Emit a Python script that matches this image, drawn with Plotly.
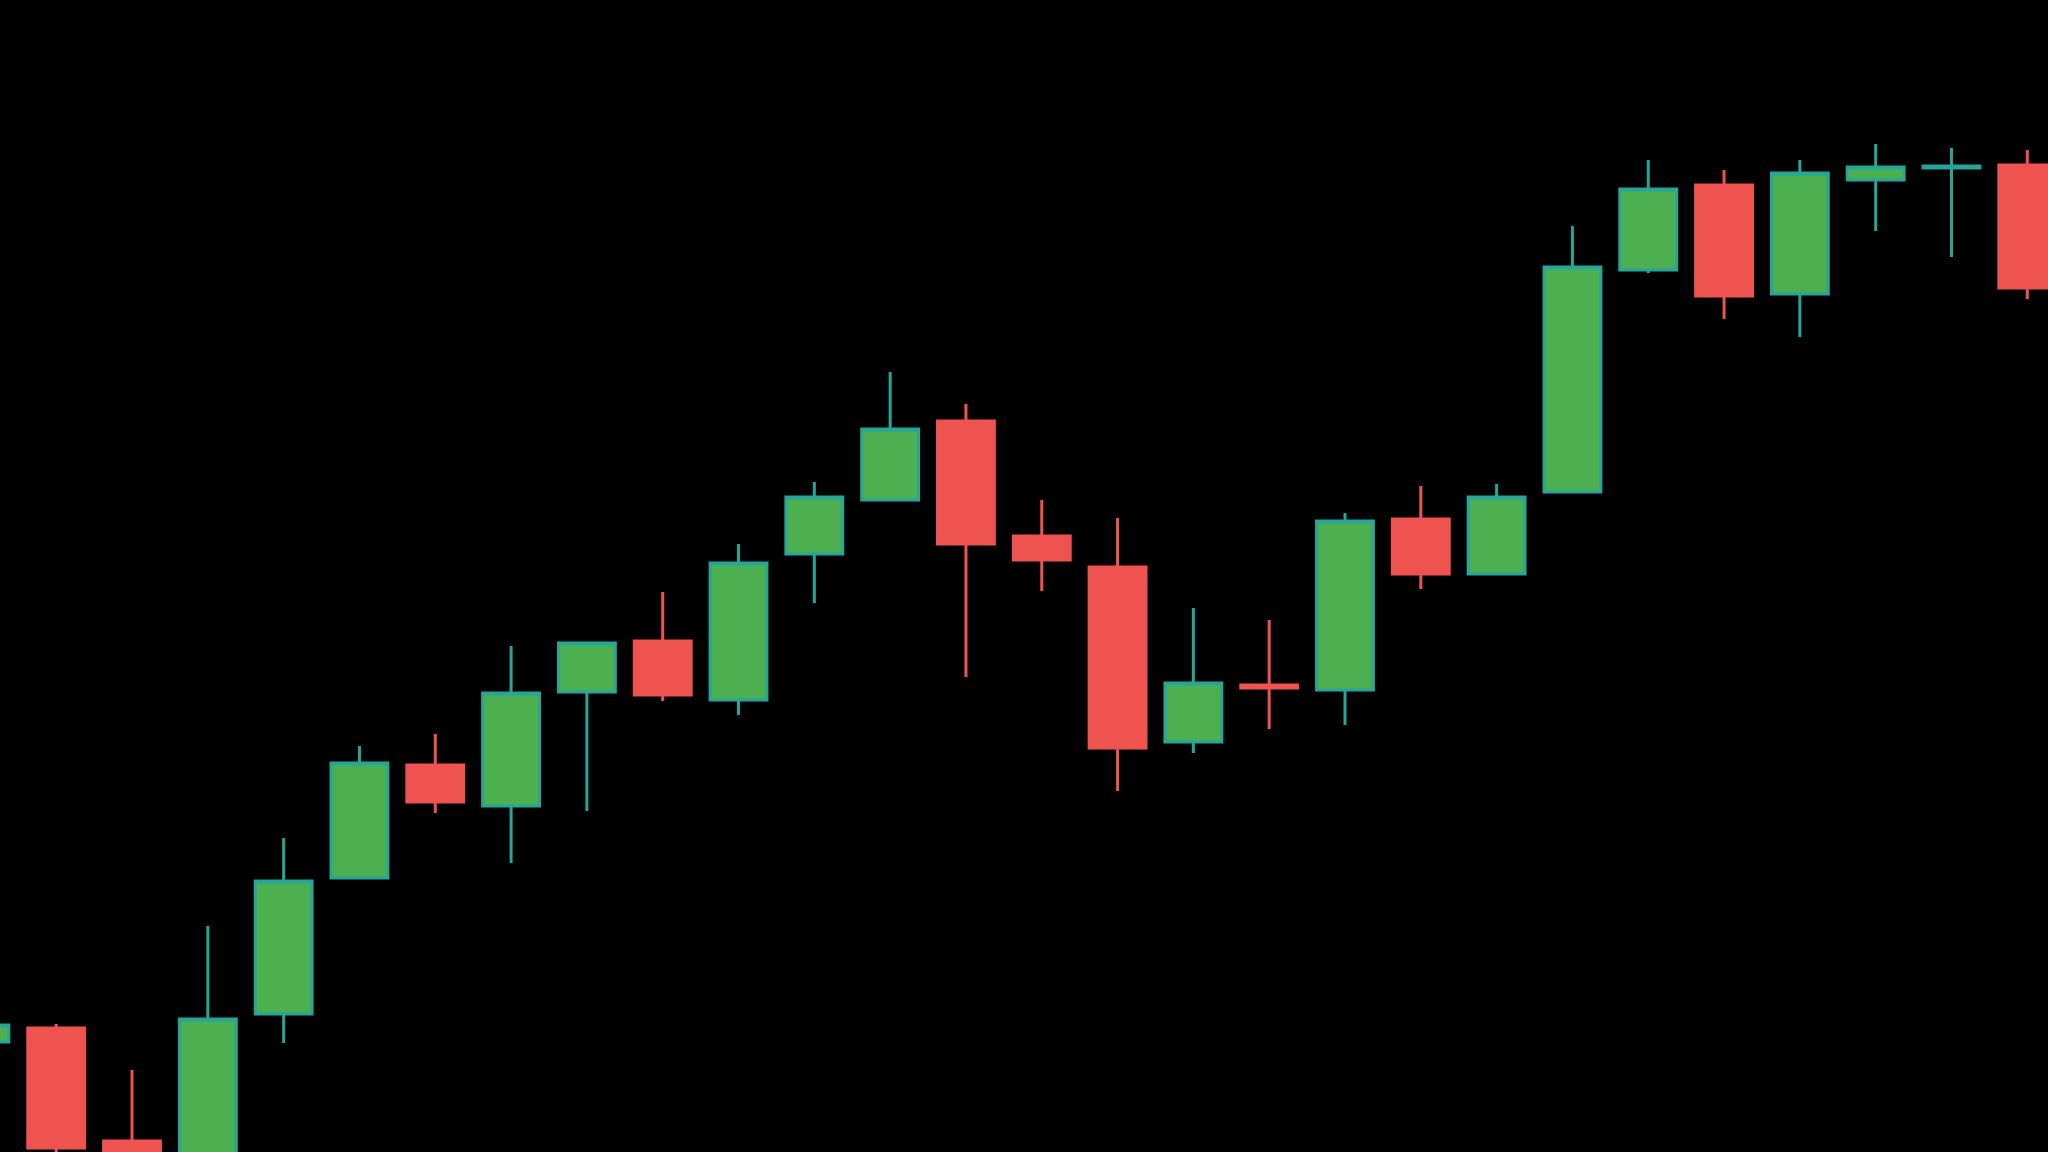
import plotly.graph_objects as go

# Bar index (one candle per period)
periods = list(range(28))

opens  = [111.0, 112.4, 101.1,  97.7, 113.8, 127.4, 138.7, 134.6, 146.0, 151.1,
          145.2, 159.8, 165.2, 173.1, 161.6, 158.5, 141.0, 146.7, 146.2, 163.3,
          157.8, 166.0, 188.2, 196.7, 185.8, 197.2, 198.4, 198.7]
highs  = [113.0, 112.8, 108.2, 122.6, 131.4, 140.6, 141.8, 150.6, 151.0, 156.0,
          160.8, 167.0, 178.0, 174.8, 165.2, 163.4, 154.4, 153.2, 163.9, 166.6,
          166.8, 192.6, 199.2, 198.2, 199.2, 200.8, 200.4, 200.2]
lows   = [110.7,  99.8,  97.2,  96.7, 110.9, 127.4, 133.9, 128.9, 134.1, 145.1,
          143.7, 154.9, 165.2, 147.5, 156.1, 136.1, 139.9, 142.3, 142.7, 156.3,
          157.8, 166.0, 187.9, 183.3, 181.5, 192.1, 189.5, 185.3]
closes = [112.7, 100.4,  98.2, 113.3, 127.1, 138.9, 135.0, 145.9, 150.9, 145.7,
          158.9, 165.5, 172.3, 160.8, 159.2, 140.4, 146.9, 146.4, 163.1, 157.8,
          165.5, 188.5, 196.3, 185.6, 197.9, 198.5, 198.6, 186.4]

UP_FILL = "#4caf50"
UP_LINE = "#26a69a"
DOWN = "#ef5350"

fig = go.Figure(
    go.Candlestick(
        x=periods, open=opens, high=highs, low=lows, close=closes,
        increasing=dict(fillcolor=UP_FILL, line=dict(color=UP_LINE, width=3)),
        decreasing=dict(fillcolor=DOWN, line=dict(color=DOWN, width=3)),
        whiskerwidth=0,
        showlegend=False,
        hoverinfo="skip",
    )
)

fig.update_layout(
    width=2048, height=1152,
    margin=dict(l=0, r=0, t=0, b=0, pad=0),
    paper_bgcolor="#000000", plot_bgcolor="#000000",
    boxgap=0.25, boxgroupgap=0,
    showlegend=False,
    xaxis=dict(visible=False, range=[0.2585, 27.273], rangeslider=dict(visible=False),
               fixedrange=True),
    yaxis=dict(visible=False, range=[100.0, 215.2], fixedrange=True),
)

fig.write_html(
    "out.html",
    config={"displayModeBar": False, "staticPlot": True},
    post_script="document.body.style.margin='0';document.body.style.background='#000';document.documentElement.style.background='#000';",
)
